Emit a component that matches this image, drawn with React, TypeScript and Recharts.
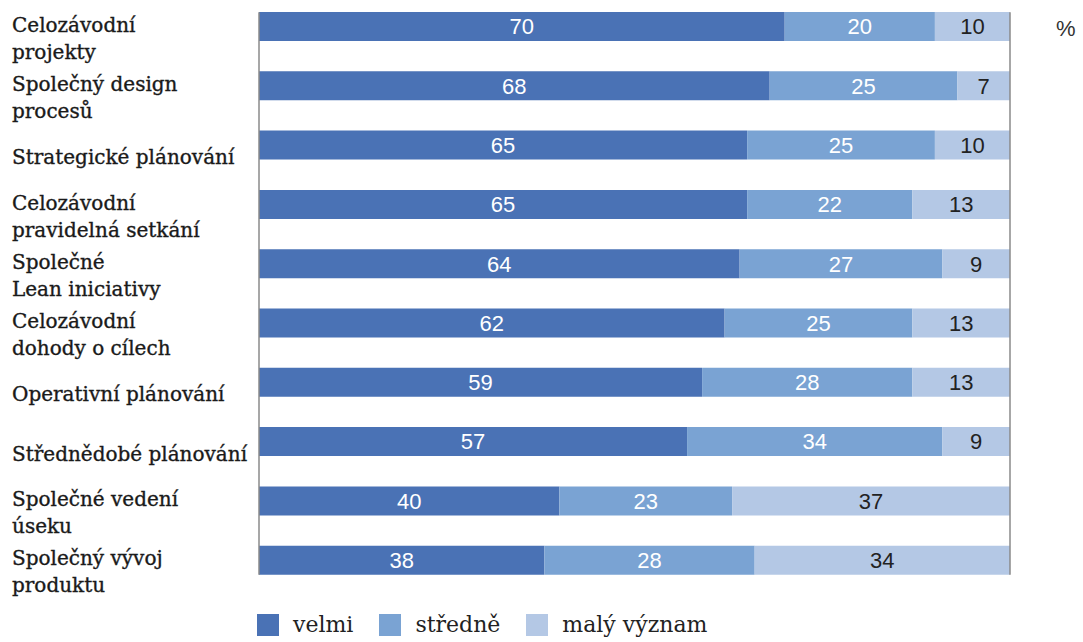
import { Bar, BarChart, LabelList, ReferenceLine, XAxis, YAxis } from 'recharts';

const categories = [
  'Celozávodní\nprojekty',
  'Společný design\nprocesů',
  'Strategické plánování',
  'Celozávodní\npravidelná setkání',
  'Společné\nLean iniciativy',
  'Celozávodní\ndohody o cílech',
  'Operativní plánování',
  'Střednědobé plánování',
  'Společné vedení\núseku',
  'Společný vývoj\nproduktu',
];
const velmi = [70, 68, 65, 65, 64, 62, 59, 57, 40, 38];
const stredne = [20, 25, 25, 22, 27, 25, 28, 34, 23, 28];
const malyVyznam = [10, 7, 10, 13, 9, 13, 13, 9, 37, 34];

const legendItems = [
  { key: 'velmi', label: 'velmi', color: '#4a72b5' },
  { key: 'stredne', label: 'středně', color: '#7aa3d3' },
  { key: 'maly', label: 'malý význam', color: '#b4c8e5' },
];

const data = categories.map((name, i) => ({
  name,
  velmi: velmi[i],
  stredne: stredne[i],
  maly: malyVyznam[i],
}));

const serif = '"DejaVu Serif", serif';
const sans = '"Liberation Sans", Arial, sans-serif';
const BAR = 29;

function CategoryTick(props: any) {
  const { y, payload } = props;
  const lines = String(payload.value).split('\n');
  const first = lines.length > 1 ? 5 : 19;
  return (
    <text
      x={12}
      y={y + first}
      fill="#1a1a1a"
      stroke="#1a1a1a"
      strokeWidth={0.35}
      fontFamily={serif}
      fontSize={20}
      textAnchor="start"
    >
      {lines.map((line, i) => (
        <tspan key={i} x={12} dy={i === 0 ? 0 : 27}>
          {line}
        </tspan>
      ))}
    </text>
  );
}

// frame line from the top of the first bar to the bottom of the last one
function FrameLine(props: any) {
  const { x1, y1, x2, y2 } = props;
  return <line x1={x1} y1={y1 - BAR / 2} x2={x2} y2={y2 + BAR / 2} stroke="#8a8a8a" strokeWidth={1.5} />;
}

export default function App() {
  const first = categories[0];
  const last = categories[categories.length - 1];
  return (
    <div style={{ position: 'absolute', left: 0, top: 0, width: 1083, height: 642, background: '#fff' }}>
      <BarChart
        width={1083}
        height={642}
        data={data}
        layout="vertical"
        barSize={BAR}
        margin={{ top: -3, right: 73, bottom: 52, left: 0 }}
      >
        <XAxis type="number" domain={[0, 100]} hide />
        <YAxis
          type="category"
          dataKey="name"
          width={259}
          axisLine={false}
          tickLine={false}
          tick={<CategoryTick />}
          interval={0}
        />
        <Bar dataKey="velmi" stackId="a" fill="#4a72b5" isAnimationActive={false}>
          <LabelList dataKey="velmi" position="center" fill="#fff" fontFamily={sans} fontSize={22} />
        </Bar>
        <Bar dataKey="stredne" stackId="a" fill="#7aa3d3" isAnimationActive={false}>
          <LabelList dataKey="stredne" position="center" fill="#fff" fontFamily={sans} fontSize={22} />
        </Bar>
        <Bar dataKey="maly" stackId="a" fill="#b4c8e5" isAnimationActive={false}>
          <LabelList dataKey="maly" position="center" fill="#222" fontFamily={sans} fontSize={22} />
        </Bar>
        <ReferenceLine
          segment={[{ x: 0, y: first }, { x: 0, y: last }]}
          shape={<FrameLine />}
        />
        <ReferenceLine
          segment={[{ x: 100, y: first }, { x: 100, y: last }]}
          shape={<FrameLine />}
        />
      </BarChart>
      <div
        style={{
          position: 'absolute',
          left: 1056,
          top: 16,
          fontFamily: sans,
          fontSize: 22,
          color: '#333',
        }}
      >
        %
      </div>
      <div
        style={{
          position: 'absolute',
          left: 257,
          top: 612,
          display: 'flex',
          alignItems: 'center',
          fontFamily: serif,
          fontSize: 22,
          color: '#222',
        }}
      >
        {legendItems.map((item, i) => (
          <div key={item.key} style={{ display: 'flex', alignItems: 'center', marginLeft: i === 0 ? 0 : 26 }}>
            <span style={{ width: 22, height: 22, background: item.color, display: 'inline-block', marginRight: 14 }} />
            <span>{item.label}</span>
          </div>
        ))}
      </div>
    </div>
  );
}
